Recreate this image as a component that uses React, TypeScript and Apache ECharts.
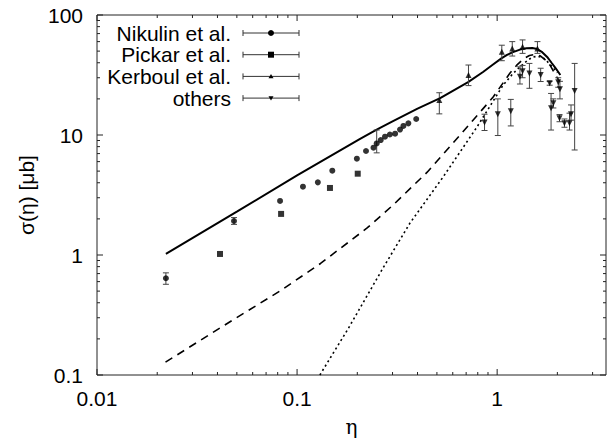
import React, { useEffect, useRef } from "react";
import * as echarts from "echarts";

// ---- axis definitions ----
const X_MIN = 0.01;
const X_MAX = 3.5;
const Y_MIN = 0.1;
const Y_MAX = 100;
const xTickValues = [0.01, 0.1, 1];
const xTickLabels = ["0.01", "0.1", "1"];
const yTickValues = [0.1, 1, 10, 100];
const yTickLabels = ["0.1", "1", "10", "100"];

// ---- theory curves [eta, sigma] ----
const curveSolid = [
  [0.0221, 1.02], [0.05, 2.3], [0.1, 4.6], [0.2065, 9.3], [0.25, 11.1], [0.3, 13.0],
  [0.4, 16.6], [0.519, 20.3], [0.716, 27.6], [0.85, 33.5], [0.95, 38.5], [1.05, 43.5],
  [1.12, 46.5], [1.2, 49], [1.3, 51.5], [1.4, 52.8], [1.5, 53], [1.585, 52],
  [1.68, 49], [1.778, 44.7], [1.87, 40], [1.95, 36.5], [2.07, 31.6],
];
const curveDashed = [
  [0.022, 0.128], [0.048, 0.289], [0.082, 0.5], [0.131, 0.85], [0.224, 1.68],
  [0.302, 2.61], [0.447, 4.9], [0.653, 10], [0.955, 20.7], [1.16, 32.9],
  [1.25, 38], [1.35, 43], [1.45, 46], [1.55, 47], [1.65, 45.5], [1.75, 42],
  [1.85, 37.5], [1.95, 32], [2.05, 28],
];
const curveDotted = [
  [0.13, 0.1], [0.18, 0.243], [0.269, 0.78], [0.367, 1.85], [0.537, 4.47],
  [0.794, 11.7], [1.07, 26], [1.2, 32.5], [1.3, 36.9], [1.42, 42], [1.51, 44.7],
  [1.6, 45.3], [1.7, 44], [1.78, 41], [1.9, 36.5], [2.0, 33],
];

// ---- data points [eta, sigma, errLow, errHigh] ----
const nikulin = [
  [0.0221, 0.64, 0.57, 0.71], [0.0484, 1.92, 1.8, 2.05], [0.0822, 2.82],
  [0.107, 3.71], [0.127, 4.03], [0.15, 5.04], [0.199, 6.35], [0.221, 7.36],
  [0.241, 7.84], [0.25, 8.5, 7.1, 11], [0.262, 9.08], [0.275, 9.68],
  [0.291, 10.1], [0.309, 10.25], [0.327, 11.1], [0.34, 11.9], [0.36, 12.5],
  [0.394, 13.6],
];
const pickar = [[0.0412, 1.02], [0.0832, 2.2], [0.146, 3.62], [0.201, 4.76]];
const kerboul = [
  [0.514, 19.6, 15, 22.5], [0.719, 31.6, 25.8, 38.3], [1.055, 49.4, 41.6, 56],
  [1.19, 52.7, 45.5, 60], [1.34, 54.4, 47.9, 62], [1.59, 52.7, 47.9, 60],
];
const others = [
  [0.865, 12.7, 10.9, 14.9], [1.008, 14.9, 9.9, 20], [1.17, 15.8, 11.9, 19.8],
  [1.3, 30.6, 26.6, 37], [1.34, 34, 30, 38], [1.45, 32.6, 24.5, 39.5],
  [1.65, 31.6, 27.9, 36], [1.83, 27, 26, 28], [1.86, 16.7, 11, 22.2],
  [1.91, 18.4, 16.8, 20], [2.02, 27.5, 25, 30], [2.06, 24, 20, 28],
  [2.05, 13.8, 12.9, 14.8], [2.17, 12.5, 11.6, 13.6], [2.3, 12.5, 11, 15.2],
  [2.34, 14.9, 13.3, 17.8], [2.44, 23.3, 7.5, 39.5],
];

const legendNames = ["Nikulin et al.", "Pickar et al.", "Kerboul et al.", "others"];

const FONT = "'Liberation Sans', Arial, Helvetica, sans-serif";
const FS = 21;
const INK = "#000";
const BAR = "#444";

function labelFor(v: number, vals: number[], labels: string[]) {
  const lv = Math.log10(v);
  for (let i = 0; i < vals.length; i++) {
    if (Math.abs(Math.log10(vals[i]) - lv) < 1e-6) return labels[i];
  }
  return "";
}

function buildTicks() {
  const out: number[][] = [];
  for (let e = -2; e <= 0; e++) {
    for (let m = 1; m <= 9; m++) {
      const v = m * Math.pow(10, e);
      if (v >= X_MIN * 0.999 && v <= X_MAX) out.push([v, 1, 0, m === 1 ? 1 : 0]);
    }
  }
  for (let e = -1; e <= 2; e++) {
    for (let m = 1; m <= 9; m++) {
      const v = m * Math.pow(10, e);
      if (v >= Y_MIN * 0.999 && v <= Y_MAX * 1.001) out.push([1, v, 1, m === 1 ? 1 : 0]);
    }
  }
  return out;
}

function errorSeries(data: number[][]) {
  return {
    type: "custom",
    clip: false,
    z: 3,
    data: data.filter((d) => d.length === 4),
    encode: { x: 0, y: 1 },
    renderItem: (_p: any, api: any) => {
      const x = api.value(0);
      const top = api.coord([x, api.value(3)]);
      const bot = api.coord([x, api.value(2)]);
      const w = 3;
      const st = { stroke: BAR, lineWidth: 1 };
      return {
        type: "group",
        children: [
          { type: "line", shape: { x1: top[0], y1: top[1], x2: bot[0], y2: bot[1] }, style: st },
          { type: "line", shape: { x1: top[0] - w, y1: top[1], x2: top[0] + w, y2: top[1] }, style: st },
          { type: "line", shape: { x1: bot[0] - w, y1: bot[1], x2: bot[0] + w, y2: bot[1] }, style: st },
        ],
      };
    },
  };
}

function legendGraphics() {
  const els: any[] = [];
  const x0 = 243, x1 = 299, xm = 271;
  legendNames.forEach((name, i) => {
    const y = 33 + i * 21.7;
    els.push({
      type: "text",
      style: { text: name, x: 231, y, align: "right", verticalAlign: "middle", fill: INK, font: `${FS}px ${FONT}` },
    });
    const st = { stroke: "#333", lineWidth: 1 };
    els.push({ type: "line", shape: { x1: x0, y1: y, x2: x1, y2: y }, style: st });
    els.push({ type: "line", shape: { x1: x0, y1: y - 3, x2: x0, y2: y + 3 }, style: st });
    els.push({ type: "line", shape: { x1: x1, y1: y - 3, x2: x1, y2: y + 3 }, style: st });
    if (i === 0) els.push({ type: "circle", shape: { cx: xm, cy: y, r: 3 }, style: { fill: INK } });
    if (i === 1) els.push({ type: "rect", shape: { x: xm - 3, y: y - 3, width: 6, height: 6 }, style: { fill: INK } });
    if (i === 2)
      els.push({ type: "polygon", shape: { points: [[xm, y - 2.5], [xm - 2.5, y + 1.8], [xm + 2.5, y + 1.8]] }, style: { fill: INK } });
    if (i === 3)
      els.push({ type: "polygon", shape: { points: [[xm, y + 2.5], [xm - 2.5, y - 1.8], [xm + 2.5, y - 1.8]] }, style: { fill: INK } });
  });
  return els;
}

export default function App() {
  const ref = useRef<HTMLDivElement>(null);
  useEffect(() => {
    document.body.style.margin = "0";
    if (!ref.current) return;
    const chart = echarts.init(ref.current, undefined, { renderer: "svg" });
    const lineBase = { type: "line", showSymbol: false, smooth: false, silent: true, z: 2 };
    chart.setOption({
      animation: false,
      backgroundColor: "#fff",
      textStyle: { fontFamily: FONT },
      grid: {
        left: 97, right: 3, top: 15, bottom: 65,
        outerBoundsMode: "none", containLabel: false,
        show: true, borderColor: "#222", borderWidth: 1, backgroundColor: "transparent",
      },
      xAxis: {
        type: "log",
        logBase: 10,
        min: X_MIN,
        max: X_MAX,
        axisLine: { show: false },
        axisTick: { show: false },
        splitLine: { show: false },
        axisLabel: {
          interval: 0,
          margin: 13,
          fontSize: FS,
          color: INK,
          fontFamily: FONT,
          formatter: (v: number) => labelFor(v, xTickValues, xTickLabels),
        },
        name: "η",
        nameLocation: "middle",
        nameGap: 41,
        nameTextStyle: { fontSize: 20, color: INK, fontFamily: "'DejaVu Serif', serif", lineHeight: 22 },
      },
      yAxis: {
        type: "log",
        logBase: 10,
        min: Y_MIN,
        max: Y_MAX,
        axisLine: { show: false },
        axisTick: { show: false },
        splitLine: { show: false },
        axisLabel: {
          interval: 0,
          margin: 14,
          fontSize: FS,
          color: INK,
          fontFamily: FONT,
          formatter: (v: number) => labelFor(v, yTickValues, yTickLabels),
        },
        name: "σ(η) [μb]",
        nameLocation: "middle",
        nameRotate: 90,
        nameGap: 60,
        nameTextStyle: { fontSize: FS, color: INK, fontFamily: FONT },
      },
      graphic: legendGraphics(),
      series: [
        {
          type: "custom",
          clip: false,
          silent: true,
          z: 5,
          data: buildTicks(),
          encode: { x: 0, y: 1 },
          renderItem: (_p: any, api: any) => {
            const isY = api.value(2) === 1;
            const len = api.value(3) === 1 ? 6 : 3;
            const st = { stroke: "#222", lineWidth: 1 };
            if (!isY) {
              const v = api.value(0);
              const b = api.coord([v, Y_MIN]);
              const t = api.coord([v, Y_MAX]);
              return {
                type: "group",
                children: [
                  { type: "line", shape: { x1: b[0], y1: b[1], x2: b[0], y2: b[1] - len }, style: st },
                  { type: "line", shape: { x1: t[0], y1: t[1], x2: t[0], y2: t[1] + len }, style: st },
                ],
              };
            }
            const v = api.value(1);
            const l = api.coord([X_MIN, v]);
            const r = api.coord([X_MAX, v]);
            return {
              type: "group",
              children: [
                { type: "line", shape: { x1: l[0], y1: l[1], x2: l[0] + len, y2: l[1] }, style: st },
                { type: "line", shape: { x1: r[0], y1: r[1], x2: r[0] - len, y2: r[1] }, style: st },
              ],
            };
          },
        },
        { ...lineBase, name: "solid", data: curveSolid, lineStyle: { color: INK, width: 2, type: "solid" } },
        { ...lineBase, name: "dashed", data: curveDashed, lineStyle: { color: INK, width: 1.6, type: [8, 6] } },
        { ...lineBase, name: "dotted", data: curveDotted, lineStyle: { color: INK, width: 1.6, type: [2, 3] } },
        errorSeries(nikulin),
        errorSeries(kerboul),
        errorSeries(others),
        {
          type: "scatter", name: legendNames[0], symbol: "circle", symbolSize: 6, z: 4,
          data: nikulin.map((d) => [d[0], d[1]]), itemStyle: { color: INK },
        },
        {
          type: "scatter", name: legendNames[1], symbol: "rect", symbolSize: 6, z: 4,
          data: pickar.map((d) => [d[0], d[1]]), itemStyle: { color: INK },
        },
        {
          type: "scatter", name: legendNames[2], symbol: "triangle", symbolSize: 6, z: 4,
          data: kerboul.map((d) => [d[0], d[1]]), itemStyle: { color: INK },
        },
        {
          type: "scatter", name: legendNames[3], symbol: "triangle", symbolRotate: 180, symbolSize: 6, z: 4,
          data: others.map((d) => [d[0], d[1]]), itemStyle: { color: INK },
        },
      ],
    });
    return () => chart.dispose();
  }, []);
  return <div ref={ref} style={{ width: 609, height: 440 }} />;
}
